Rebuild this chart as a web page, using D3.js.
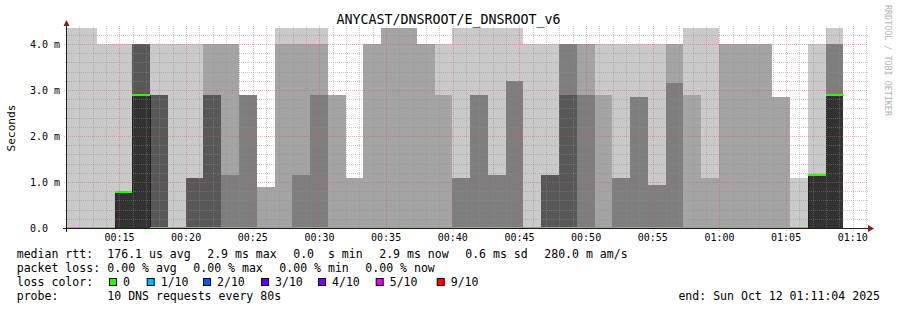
<!DOCTYPE html>
<html><head><meta charset="utf-8">
<script src="https://cdn.jsdelivr.net/npm/d3@7"></script>
<style>body{margin:0;background:#fff}svg{display:block}text{font-family:"DejaVu Sans Mono",monospace}</style>
</head><body>
<svg id="c" width="897" height="310"></svg>
<script>
// ---------- data ----------
const title = "ANYCAST/DNSROOT/E_DNSROOT_v6";
const graphStart = "2025-10-12T00:11:04Z";
const graphEnd = "2025-10-12T01:11:04Z";
const firstStepEnd = "2025-10-12T00:11:58Z";
const stepSeconds = 80;
const yMax = 4.35;                 // ms
const yTicks = [0, 1, 2, 3, 4];
const yTickLabels = ["0.0", "1.0 m", "2.0 m", "3.0 m", "4.0 m"];
// ten sorted rtts per 80 s step, in ms
const ping1 = Array(44).fill(0);
const ping2 = Array(44).fill(0);
const ping3 = Array(44).fill(0);
const ping4 = Array(44).fill(0);
const ping5 = Array(44).fill(0);
const ping6 = [0,0,0,0.79,2.89,0,0,0,0,0,0,0,0,0,0,0,0,0,0,0,0,0,0,0,0,0,0,0,0,0,0,0,0,0,0,0,0,0,0,0,0,0,1.15,2.89];
const ping7 = [0,0,0,0.79,4.0,2.89,0,1.09,2.89,0,0,0,0,0,0,0,0,0,0,0,0,0,0,0,0,0,0,1.15,2.89,0,0,0,0,0,0,0,0,0,0,0,0,0,1.15,2.89];
const ping8 = [0,0,0,0.79,4.0,2.89,0,1.09,2.89,1.15,2.89,0,0,1.15,2.89,0,0,0,0,0,0,0,1.09,2.89,1.15,3.2,0,1.15,4.0,2.89,0,1.09,2.84,0.93,3.16,0,0,0,0,0,0,0,1.15,4.0];
const ping9 = [0,0,0,0.79,4.0,2.89,0,1.09,4.0,4.0,2.89,0.9,4.0,4.0,4.0,2.89,1.09,4.0,4.35,4.35,4.0,2.89,1.09,2.89,1.15,3.2,0,1.15,4.0,4.0,2.89,1.09,2.84,0.93,4.0,2.89,1.09,4.0,4.0,4.0,2.84,0,1.15,4.0];
const ping10 = [4.35,4.35,4.0,4.0,4.0,4.0,4.0,4.0,4.0,4.0,2.89,0.9,4.35,4.35,4.35,2.89,1.09,4.0,4.35,4.35,4.0,4.0,4.35,4.35,4.35,4.35,4.0,4.0,4.0,4.0,4.0,4.0,4.0,4.0,4.0,4.35,4.35,4.0,4.0,4.0,2.84,1.09,4.0,4.35];
const median = [0,0,0,0.79,2.89,0,0,0,0,0,0,0,0,0,0,0,0,0,0,0,0,0,0,0,0,0,0,0,0,0,0,0,0,0,0,0,0,0,0,0,0,0,1.15,2.89];
const loss = Array(44).fill(0);
const lossLabels = ["0", "1/10", "2/10", "3/10", "4/10", "5/10", "9/10"];
const lossColors = ["#26ff00", "#00b8ff", "#0059ff", "#5e00ff", "#7e00ff", "#dd00ff", "#ff0000"];
const smokeShades = ["#cacaca", "#a4a4a4", "#7e7e7e", "#585858", "#323232"];
const statsLine1 = ["median rtt:", "176.1 us avg", "2.9 ms max", "0.0  s min", "2.9 ms now", "0.6 ms sd", "280.0 m am/s"];
const statsLine2 = ["packet loss:", "0.00 % avg", "0.00 % max", "0.00 % min", "0.00 % now"];
const probeLine = ["probe:", "10 DNS requests every 80s"];
const endLabel = "end: Sun Oct 12 01:11:04 2025";
const yLabel = "Seconds";
const watermark = "RRDTOOL / TOBI OETIKER";

// ---------- drawing ----------
const svg = d3.select("#c");
const parseT = d3.utcParse("%Y-%m-%dT%H:%M:%SZ");
const t0 = parseT(graphStart), t1 = parseT(graphEnd), tf = parseT(firstStepEnd);
const X0 = 67, X1 = 867, Y0 = 228, Y1 = 28;
const x = d3.scaleUtc().domain([t0, t1]).range([X0, X1]);
const y = d3.scaleLinear().domain([0, yMax]).range([Y0, Y1]);
const n = ping10.length;
const stepEnd = i => new Date(tf.getTime() + i * stepSeconds * 1000);
const stepStart = i => new Date(tf.getTime() + (i - 1) * stepSeconds * 1000);
const pings = [ping1, ping2, ping3, ping4, ping5, ping6, ping7, ping8, ping9, ping10];

svg.append("defs").append("clipPath").attr("id", "pc")
  .append("rect").attr("x", X0).attr("y", 0).attr("width", X1 - X0).attr("height", 240);
const g = svg.append("g").attr("clip-path", "url(#pc)");

const px0 = i => Math.round(x(stepStart(i)));
const px1 = i => Math.round(x(stepEnd(i)));

smokeShades.forEach((col, k) => {
  const lo = pings[k], hi = pings[9 - k];
  g.append("g").selectAll("rect").data(d3.range(n).filter(i => hi[i] > lo[i])).join("rect")
    .attr("x", px0).attr("width", i => px1(i) - px0(i))
    .attr("y", i => Math.round(y(hi[i])))
    .attr("height", i => Math.round(y(lo[i])) - Math.round(y(hi[i])))
    .attr("fill", col).attr("shape-rendering", "crispEdges");
});

// median dark line (step)
const medPts = d3.range(n).map(i => [px0(i), y(median[i])]);
medPts.push([px1(n - 1), y(median[n - 1])]);
g.append("path").attr("d", d3.line().curve(d3.curveStepAfter)(medPts))
  .attr("fill", "none").attr("stroke", "#202020").attr("stroke-width", 1)
  .attr("transform", "translate(0.5,0)");
// median coloured by loss
g.append("g").selectAll("rect").data(d3.range(n)).join("rect")
  .attr("x", px0).attr("width", i => px1(i) - px0(i))
  .attr("y", i => Math.round(y(median[i])) - 1).attr("height", 2)
  .attr("fill", i => lossColors[loss[i]]).attr("shape-rendering", "crispEdges");

// grid
const minorCol = "rgba(143,143,143,0.45)", majorCol = "rgba(222,79,79,0.45)";
const grid = svg.append("g").attr("shape-rendering", "crispEdges");
const minutes = x.ticks(d3.utcMinute.every(1));
const fives = x.ticks(d3.utcMinute.every(5));
const isFive = d => d.getUTCMinutes() % 5 === 0;
grid.selectAll(".vm").data(minutes.filter(d => !isFive(d))).join("line")
  .attr("x1", d => Math.round(x(d)) + 0.5).attr("x2", d => Math.round(x(d)) + 0.5)
  .attr("y1", Y1 - 2).attr("y2", Y0 + 2)
  .attr("stroke", minorCol).attr("stroke-dasharray", "1,1");
const yMinor = d3.range(0.2, yMax, 0.2).filter(v => Math.abs(v - Math.round(v)) > 0.01);
grid.selectAll(".hm").data(yMinor).join("line")
  .attr("x1", X0 - 2).attr("x2", X1 + 1)
  .attr("y1", d => Math.round(y(d)) + 0.5).attr("y2", d => Math.round(y(d)) + 0.5)
  .attr("stroke", minorCol).attr("stroke-dasharray", "1,1");
grid.selectAll(".vM").data(fives).join("line")
  .attr("x1", d => Math.round(x(d)) + 0.5).attr("x2", d => Math.round(x(d)) + 0.5)
  .attr("y1", Y1 - 2).attr("y2", Y0 + 3)
  .attr("stroke", majorCol).attr("stroke-dasharray", "1,1");
grid.selectAll(".hM").data(yTicks.filter(v => v > 0)).join("line")
  .attr("x1", X0 - 3).attr("x2", X1 + 1)
  .attr("y1", d => Math.round(y(d)) + 0.5).attr("y2", d => Math.round(y(d)) + 0.5)
  .attr("stroke", majorCol).attr("stroke-dasharray", "1,1");

// axes
const ax = svg.append("g").attr("shape-rendering", "crispEdges");
ax.append("line").attr("x1", X0 - 4).attr("x2", X1 + 3).attr("y1", Y0 + 0.5).attr("y2", Y0 + 0.5).attr("stroke", "#1f1f1f");
ax.append("line").attr("x1", X0 - 0.5).attr("x2", X0 - 0.5).attr("y1", Y0 + 4).attr("y2", Y1 - 4).attr("stroke", "#1f1f1f");
svg.append("path").attr("d", `M${X1 + 1},${Y0 - 3}L${X1 + 7},${Y0 + 0.5}L${X1 + 1},${Y0 + 4}Z`).attr("fill", "#801f1f");
svg.append("path").attr("d", `M${X0 - 3.5},${Y1 - 2}L${X0 - 0.5},${Y1 - 8}L${X0 + 2.5},${Y1 - 2}Z`).attr("fill", "#801f1f");

// tick labels
svg.append("g").selectAll("text").data(fives).join("text")
  .attr("x", d => x(d)).attr("y", 240.5).attr("text-anchor", "middle")
  .attr("font-size", "10px").attr("fill", "#000").text(d3.utcFormat("%H:%M"));
svg.append("g").selectAll("text").data(yTicks).join("text")
  .attr("x", 30).attr("y", d => y(d) + 3.7).attr("font-size", "10px").attr("fill", "#000")
  .text((d, i) => yTickLabels[i]);

// titles
svg.append("text").attr("x", 448.5).attr("y", 24).attr("text-anchor", "middle")
  .attr("font-size", "13.3px").attr("fill", "#000").text(title);
svg.append("text").attr("transform", "translate(15,128) rotate(-90)").attr("text-anchor", "middle")
  .attr("font-size", "11.2px").attr("fill", "#000").text(yLabel);
svg.append("text").attr("transform", "translate(884.5,5) rotate(90)")
  .attr("font-size", "8.4px").attr("fill", "#b4b4b4").text(watermark);

// legend
const cw = 6.95, fs = "11.55px", gap = 16.5;
function legendRow(items, yb) {
  let xs = 16.7;
  items.forEach((s, i) => {
    if (i === 1) xs = 107.3;
    svg.append("text").attr("x", xs).attr("y", yb).attr("font-size", fs)
      .attr("xml:space", "preserve").style("white-space", "pre").text(s);
    xs += s.length * cw + gap;
  });
}
legendRow(statsLine1, 258.3);
legendRow(statsLine2, 272.3);
legendRow(["loss color:"], 286.3);
legendRow(probeLine, 300.3);
const boxX = [109, 146.7, 203, 261, 318, 375.7, 436.7];
lossLabels.forEach((lab, i) => {
  svg.append("rect").attr("x", boxX[i] + 0.5).attr("y", 278.5).attr("width", 7).attr("height", 7)
    .attr("fill", lossColors[i]).attr("stroke", "#000").attr("stroke-width", 1);
  svg.append("text").attr("x", boxX[i] + 14).attr("y", 286.3).attr("font-size", fs).text(lab);
});
svg.append("text").attr("x", 880).attr("y", 300.3).attr("text-anchor", "end").attr("font-size", fs).text(endLabel);
</script>
</body></html>
